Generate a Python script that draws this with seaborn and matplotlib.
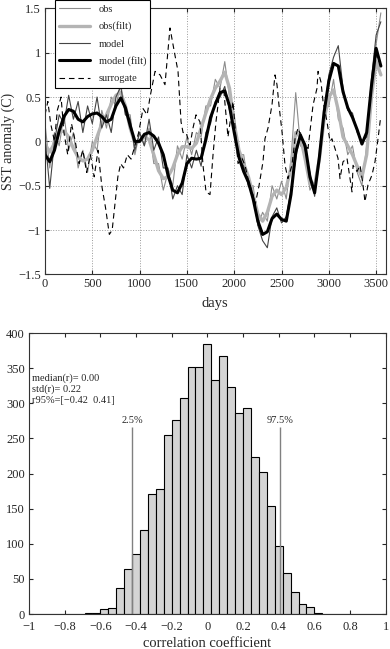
import numpy as np
import pandas as pd
import seaborn as sns
import matplotlib.pyplot as plt
from matplotlib.ticker import FuncFormatter

# time series at 50-day steps
days = list(range(0, 3600, 50))
obs = [0.2, -0.3, 0.1, -0.05, 0.3, -0.1, 0.1, -0.3, -0.1, -0.35, 0.0, -0.1, 0.35, 0.15, 0.5, 0.4,
       0.65, 0.3, 0.3, -0.15, 0.1, -0.05, 0.15, -0.25, -0.25, -0.55, -0.35, -0.5, -0.05, -0.2, 0.05, -0.15,
       0.1, 0.05, 0.4, 0.4, 0.7, 0.6, 0.9, 0.5, 0.3, -0.15, -0.15, -0.5, -0.5, -0.95, -0.8, -0.9,
       -0.5, -0.65, -0.45, -0.65, -0.2, 0.55, -0.05, -0.1, -0.55, -0.45, -0.25, 0.35, 0.4, 0.7, 0.25, 0.15,
       -0.15, -0.05, -0.35, -0.5, -0.05, 0.6, 1.1, 1.45]
obs_filt = [-0.03, -0.12, -0.02, 0.1, 0.12, 0.05, -0.08, -0.18, -0.22, -0.2, -0.1, 0.05, 0.2, 0.3, 0.42, 0.52,
            0.55, 0.4, 0.15, -0.02, 0.0, 0.05, 0.02, -0.15, -0.33, -0.42, -0.4, -0.3, -0.15, -0.06, -0.06, -0.08,
            -0.02, 0.15, 0.32, 0.48, 0.6, 0.68, 0.78, 0.6, 0.2, -0.1, -0.25, -0.4, -0.6, -0.82, -0.9, -0.8,
            -0.62, -0.55, -0.6, -0.52, -0.3, 0.1, 0.05, -0.2, -0.48, -0.5, -0.2, 0.25, 0.5, 0.58, 0.35, 0.05,
            -0.05, -0.15, -0.28, -0.4, -0.15, 0.5, 0.9, 0.75]
model = [0.05, -0.53, 0.0, 0.3, 0.2, 0.52, 0.25, 0.45, 0.1, 0.4, 0.2, 0.5, 0.15, 0.3, 0.1, 0.5,
         0.62, 0.3, 0.25, -0.1, 0.1, -0.05, 0.25, -0.1, 0.05, -0.3, -0.3, -0.65, -0.5, -0.6, -0.15, -0.3,
         -0.1, -0.28, 0.1, 0.2, 0.45, 0.5, 0.62, 0.35, 0.15, -0.2, -0.28, -0.5, -0.6, -0.95, -1.12, -1.2,
         -0.85, -0.75, -0.92, -0.85, -0.55, -0.2, 0.1, -0.1, -0.35, -0.62, -0.15, 0.3, 0.75, 0.95, 1.08, 0.6,
         0.35, 0.32, 0.1, 0.0, 0.05, 0.7, 1.2, 1.35]
model_filt = [-0.15, -0.23, -0.1, 0.12, 0.28, 0.36, 0.34, 0.25, 0.22, 0.28, 0.31, 0.32, 0.28, 0.22, 0.25, 0.4,
              0.49, 0.38, 0.18, 0.0, 0.0, 0.08, 0.1, 0.06, -0.02, -0.15, -0.38, -0.55, -0.58, -0.47, -0.25, -0.19,
              -0.2, -0.19, 0.02, 0.27, 0.42, 0.55, 0.57, 0.4, 0.1, -0.18, -0.34, -0.46, -0.65, -0.9, -1.05, -1.02,
              -0.87, -0.82, -0.88, -0.9, -0.6, -0.12, 0.07, -0.05, -0.4, -0.58, -0.18, 0.33, 0.68, 0.88, 0.85, 0.56,
              0.38, 0.27, 0.13, -0.03, 0.1, 0.62, 1.05, 0.85]

surr_days = [0, 30, 60, 100, 130, 170, 200, 240, 280, 320, 360, 400, 440, 480, 520, 560, 600, 640, 680, 710,
             740, 770, 800, 830, 870, 910, 950, 990, 1036, 1080, 1110, 1163, 1216, 1268, 1321, 1374, 1406, 1438,
             1459, 1490, 1533, 1564, 1596, 1638, 1670, 1702, 1744, 1776, 1807, 1850, 1892, 1934, 1987, 2040,
             2082, 2114, 2146, 2188, 2220, 2262, 2304, 2325, 2357, 2399, 2431, 2452, 2473, 2505, 2537, 2568,
             2610, 2643, 2674, 2716, 2780, 2833, 2875, 2886, 2917, 2939, 2981, 3012, 3033, 3065, 3097, 3118,
             3150, 3192, 3224, 3245, 3256, 3298, 3330, 3361, 3382, 3414, 3456, 3488, 3520, 3545]
surrogate = [0.3, 0.45, 0.2, 0.0, 0.35, 0.5, 0.1, -0.15, 0.2, 0.0, -0.25, -0.1, -0.35, -0.15, -0.4, -0.1,
             -0.5, -0.75, -1.05, -1.0, -0.7, -0.4, -0.25, -0.3, -0.15, -0.2, -0.05, 0.1, 0.37, 0.3, 0.5, 0.79,
             0.75, 0.64, 1.28, 0.97, 0.79, 0.22, 0.1, 0.1, -0.04, 0.15, 0.3, 0.22, -0.27, -0.57, -0.6, -0.15,
             0.22, 0.6, 0.55, 0.05, 0.45, -0.25, -0.19, -0.27, -0.42, -0.57, -0.72, -0.5, -0.23, 0.03, 0.15,
             0.41, 0.75, 0.64, 0.41, 0.11, -0.27, -0.42, -0.27, 0.03, 0.15, 0.03, -0.08, 0.41, 0.6, 0.79, 0.67,
             0.45, 0.22, 0.0, 0.03, -0.08, -0.19, -0.42, -0.23, -0.19, -0.42, -0.57, -0.27, -0.34, -0.27, -0.49,
             -0.68, -0.49, -0.38, -0.23, 0.03, 0.25]

# histogram of correlation coefficients (45 bins on [-1, 1])
bin_edges = np.linspace(-1, 1, 46)
counts = [0, 0, 0, 0, 0, 0, 0, 1, 2, 7, 9, 37, 64, 86, 120, 171, 178, 255, 276, 307, 351, 351, 385,
          333, 367, 323, 286, 293, 223, 202, 154, 97, 59, 31, 14, 10, 2, 0, 0, 0, 0, 0, 0, 0, 0]
bin_centers = (bin_edges[:-1] + bin_edges[1:]) / 2
stats_lines = ["median(r)= 0.00", "std(r)= 0.22", "r95%=[\u22120.42  0.41]"]
r_lo, r_hi = -0.42, 0.41

sns.set_style("ticks")
plt.rcParams['font.family'] = ['Liberation Serif', 'DejaVu Serif']
plt.rcParams['xtick.direction'] = 'in'
plt.rcParams['ytick.direction'] = 'in'

fig = plt.figure(figsize=(3.9, 6.49), dpi=100)
ax1 = fig.add_axes([0.1154, 0.5773, 0.8733, 0.4097])
ax2 = fig.add_axes([0.0744, 0.0539, 0.9146, 0.433])


def tick_fmt(v, pos):
    v = round(v, 6)
    if v == 0:
        return '0'
    return ('%g' % v).replace('-', '\u2212')


fmt = FuncFormatter(tick_fmt)

# --- top panel
sns.lineplot(x=days, y=obs, ax=ax1, color='#8c8c8c', lw=0.8, label='obs', estimator=None, sort=False)
sns.lineplot(x=days, y=obs_filt, ax=ax1, color='#b4b4b4', lw=2.4, label='obs(filt)', estimator=None, sort=False)
sns.lineplot(x=days, y=model, ax=ax1, color='#444444', lw=0.8, label='model', estimator=None, sort=False)
sns.lineplot(x=days, y=model_filt, ax=ax1, color='black', lw=2.2, label='model (filt)', estimator=None, sort=False)
sns.lineplot(x=surr_days, y=surrogate, ax=ax1, color='black', lw=0.8, ls=(0, (5, 3.5)), label='surrogate',
             estimator=None, sort=False)
ax1.set_xlim(0, 3600)
ax1.set_ylim(-1.5, 1.5)
ax1.set_xticks(range(0, 3600, 500))
ax1.set_yticks(np.arange(-1.5, 1.51, 0.5))
ax1.xaxis.set_major_formatter(fmt)
ax1.yaxis.set_major_formatter(fmt)
ax1.grid(True, ls=':', color='#999999', lw=0.7)
ax1.set_xlabel('days', fontsize=10.5, labelpad=5)
ax1.set_ylabel('SST anomaly (C)', fontsize=10, labelpad=2)
ax1.tick_params(labelsize=9, top=True, right=True, length=3, pad=3)
leg = ax1.legend(loc='upper left', bbox_to_anchor=(0.029, 1.031), borderaxespad=0, fancybox=False,
                 edgecolor='black', framealpha=1, fontsize=7.5, handlelength=3.0, labelspacing=0.75)
leg.get_frame().set_linewidth(0.8)
leg.set_zorder(5)

# --- bottom panel
hist_df = pd.DataFrame({'r': bin_centers, 'n': counts})
sns.histplot(data=hist_df, x='r', weights='n', bins=list(bin_edges), ax=ax2, color='#d4d4d4', alpha=1,
             edgecolor='black', linewidth=0.8)
ax2.vlines([r_lo, r_hi], 0, 266, color='#808080', lw=1)
ax2.text(r_lo, 276, '2.5%', ha='center', va='center', fontsize=7.5)
ax2.text(r_hi, 276, '97.5%', ha='center', va='center', fontsize=7.5)
for i, s in enumerate(stats_lines):
    ax2.text(-0.985, 336 - i * 16, s, ha='left', va='center', fontsize=7.5)
ax2.set_xlim(-1, 1)
ax2.set_ylim(0, 400)
ax2.set_xticks(np.arange(-1, 1.01, 0.2))
ax2.set_yticks(range(0, 401, 50))
ax2.xaxis.set_major_formatter(fmt)
ax2.set_xlabel('correlation coefficient', fontsize=10.5, labelpad=3)
ax2.set_ylabel('')
ax2.tick_params(labelsize=9, top=True, right=True, length=3, pad=3)
ax2.tick_params(axis='x', pad=5)

for ax in (ax1, ax2):
    for sp in ax.spines.values():
        sp.set_linewidth(0.8)
        sp.set_color('#333333')

fig.savefig('out.png', dpi=100)
